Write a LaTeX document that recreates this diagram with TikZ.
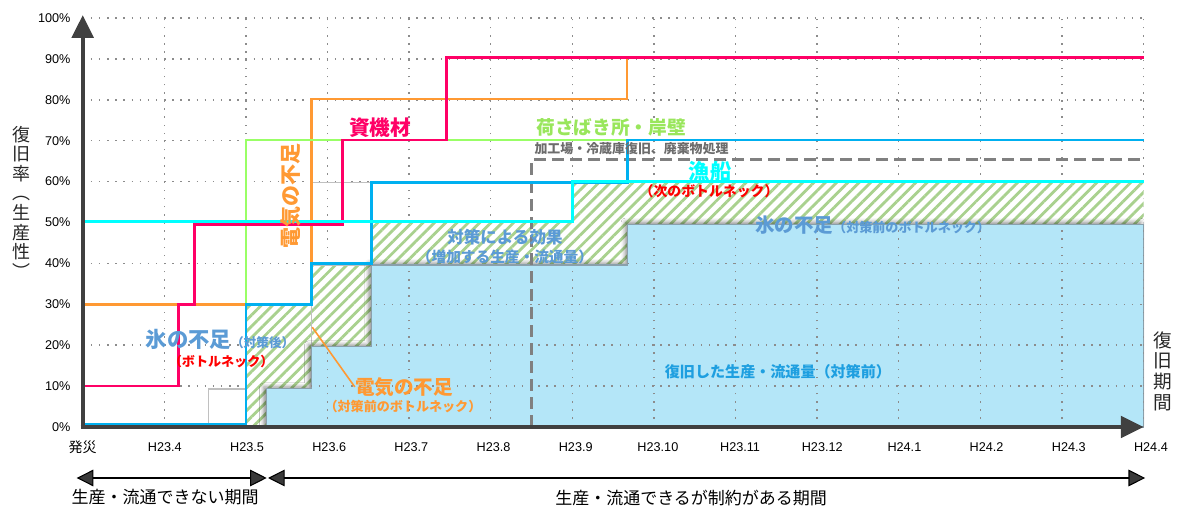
\documentclass[tikz,border=0pt]{standalone}
\usepackage{fontspec}
\setmainfont{Noto Sans CJK JP}
\newfontfamily\lat{Liberation Sans}
\usepackage{tikz}
\usetikzlibrary{arrows.meta, positioning, patterns.meta, shadows.blur}
\usepackage{xcolor}
\definecolor{pinkline}{HTML}{FF0066}
\definecolor{orangeline}{HTML}{FF9933}
\definecolor{greenline}{HTML}{99FF66}
\definecolor{greentext}{HTML}{99E65C}
\definecolor{iceblue}{HTML}{00B0F0}
\definecolor{cyanline}{HTML}{00FFFF}
\definecolor{dashgray}{HTML}{808080}
\definecolor{fillblue}{HTML}{B4E6F8}
\definecolor{hatchgreen}{HTML}{A9D18E}
\definecolor{steel}{HTML}{5B9BD5}
\definecolor{axisgray}{HTML}{404040}
\definecolor{boxgray}{HTML}{C0C0C0}
\definecolor{edgegray}{HTML}{8AA0AC}
\definecolor{restblue}{HTML}{1E9FE0}
\newcommand\fsz[1]{\fontsize{#1}{#1}\selectfont}

\begin{document}
\begin{tikzpicture}[x=61.2pt, y=3.0675pt, >=LaTeX,
  gridline/.style={draw=gray!90, line width=1.1pt, dash pattern=on 1.1pt off 5pt},
  axisline/.style={draw=axisgray, line width=3pt, -{Triangle[length=17pt, width=16pt]}},
  stepline/.style={line width=2pt},
  lbl/.style={inner sep=0pt, font=\bfseries\fsz{#1}},
  ticklbl/.style={inner sep=0pt, font=\lat\fsz{9.5}},
  periodarrow/.style={line width=0.8pt, {Triangle[length=12.5pt, width=12.5pt]}-{Triangle[length=12.5pt, width=12.5pt]}},
  boxline/.style={draw=boxgray, line width=1pt}]
\useasboundingbox (-1.0135,-20.29) rectangle (13.423,104.40);

% grid
\foreach \p in {10,20,...,100} \draw[gridline] (0,\p) -- (13,\p);
\foreach \m in {1,...,13} \draw[gridline] (\m,0) -- (\m,100);

% effect of countermeasures (hatched)
\path[preaction={fill=white}, pattern={Lines[angle=45, distance=6pt, line width=2.1pt]}, pattern color=hatchgreen]
  (2,0) -- (2,30) -- (2.8,30) -- (2.8,40) -- (3.54,40) -- (3.54,50) -- (6,50) -- (6,60) -- (13,60) -- (13,0) -- cycle;
\draw[boxline] (1.54,0) rectangle (2,9.3);
\draw[boxline] (2,0) rectangle (2.8,30);
\draw[boxline] (2.8,39.6) rectangle (3.54,59.8);

% restored output before countermeasures
\fill[fillblue, draw=edgegray, line width=0.8pt, blur shadow={shadow xshift=-2pt, shadow yshift=1.5pt, shadow blur radius=3pt, shadow opacity=45}]
  (2.25,0) -- (2.25,9.3) -- (2.8,9.3) -- (2.8,19.6) -- (3.54,19.6) -- (3.54,39.6) -- (6.68,39.6) -- (6.68,49.6) -- (13,49.6) -- (13,0) -- cycle;
\begin{scope}
  \clip (2.25,0) -- (2.25,9.3) -- (2.8,9.3) -- (2.8,19.6) -- (3.54,19.6) -- (3.54,39.6) -- (6.68,39.6) -- (6.68,49.6) -- (13,49.6) -- (13,0) -- cycle;
  \foreach \p in {10,20,...,40} \draw[gridline] (0,\p) -- (13,\p);
  \foreach \m in {3,...,13} \draw[gridline] (\m,0) -- (\m,100);
\end{scope}

% recovery steps
\draw[dashgray, line width=2pt, dash pattern=on 9pt off 4.5pt] (5.5,0) |- (13,65.4);
\draw[stepline, orangeline] (0,30) -| (2.8,80.2) -| (6.67,90.4);
\draw[stepline, greenline] (2,30) |- (6.68,70.2);
\draw[stepline, pinkline] (0,10) -| (1.17,30) -| (1.366,49.5) -| (3.18,70.2) -| (4.46,90.4) -- (13,90.4);
\draw[stepline, iceblue] (0,0.7) -| (2,30) -| (2.8,40) -| (3.54,59.7) -| (6.68,70.2) -- (13,70.2);
\draw[stepline, cyanline] (0,50.3) -| (6,60) -- (13,60);

% labels
\node[lbl=15.5, text=pinkline] (kizai) at (3.644,73.1) {資機材};
\node[lbl=15.75, text=orangeline, rotate=90] (elecA) at (2.544,56.5) {電気の不足};
\node[lbl=14, text=greentext] (nisabaki) at (6.476,73.3) {荷さばき所・岸壁};
\node[lbl=9.7, text=gray!85!black] (kakou) at (6.726,68.0) {加工場・冷蔵庫復旧、廃棄物処理};
\node[lbl=16, text=cyanline] (gyosen) at (7.688,62.6) {漁船};
\node[lbl=10.4, text=red] (nextbn) at (7.676,57.7) {（次のボトルネック）};
\node[lbl=14.6, text=steel, anchor=west] (iceB) at (8.24,49.4) {氷の不足{\fsz{9.8}（対策前のボトルネック）}};
\node[lbl=12.4, text=steel] (effect) at (5.175,46.45) {対策による効果};
\node[lbl=11, text=steel] (effectB) at (5.175,41.6) {（増加する生産・流通量）};
\node[lbl=16, text=steel] (iceA) at (1.683,21.3) {氷の不足{\fsz{9.5}（対策後）}};
\node[lbl=9.8, text=red] (bottle) at (1.697,15.9) {（ボトルネック）};
\node[lbl=14.7, text=orangeline] (elecB) at (3.938,9.8) {電気の不足};
\node[lbl=9.8, text=orangeline] (elecC) at (3.925,4.9) {（対策前のボトルネック）};
\node[lbl=11.3, text=restblue] (rest) at (8.52,13.5) {復旧した生産・流通量（対策前）};
\coordinate (ldr) at (2.813,24.4);
\draw[orangeline, line width=1.2pt] (ldr) -- (elecB.west);

% axes
\coordinate (O) at (0,0);
\draw[axisline] ([yshift=-1.5pt]O) -- (0,100.7);
\draw[axisline] ([xshift=-1.5pt]O) -- (13,0);
\foreach \p in {0,10,...,100} \node[ticklbl, anchor=east] (y\p) at (-0.147,\p) {\p\%};
\node[ticklbl] (x0) at (0,-4.9) {\rmfamily\fsz{10.5}発災};
\foreach \m/\t in {1/H23.4, 2/H23.5, 3/H23.6, 4/H23.7, 5/H23.8, 6/H23.9, 7/H23.10, 8/H23.11, 9/H23.12, 10/H24.1, 11/H24.2, 12/H24.3, 13/H24.4}
  \node[ticklbl] (x\m) at (\m*1.007,-4.9) {\t};
\node[inner sep=0pt, align=center, font=\fontsize{13.5}{14.7}\selectfont, text=black!85] (ytitle) at (-0.744,55.0) {復\\旧\\率\\︵\\生\\産\\性\\︶};
\node[inner sep=0pt, align=center, font=\fontsize{14}{15.5}\selectfont, text=black!85] (xtitle) at (13.238,13.7) {復\\旧\\期\\間};

% periods
\coordinate (pL) at (-0.0735,-12.47);
\coordinate (pM1) at (2.255,-12.47);
\coordinate (pM2) at (2.271,-12.47);
\coordinate (pR) at (13.02,-12.47);
\draw[periodarrow] (pL) -- (pM1);
\draw[periodarrow] (pM2) -- (pR);
\node[inner sep=0pt, font=\fsz{12.75}] (stop) at (1.009,-17.1) {生産・流通できない期間};
\node[inner sep=0pt, font=\fsz{12.75}] (limit) at (7.456,-17.4) {生産・流通できるが制約がある期間};
\end{tikzpicture}
\end{document}
